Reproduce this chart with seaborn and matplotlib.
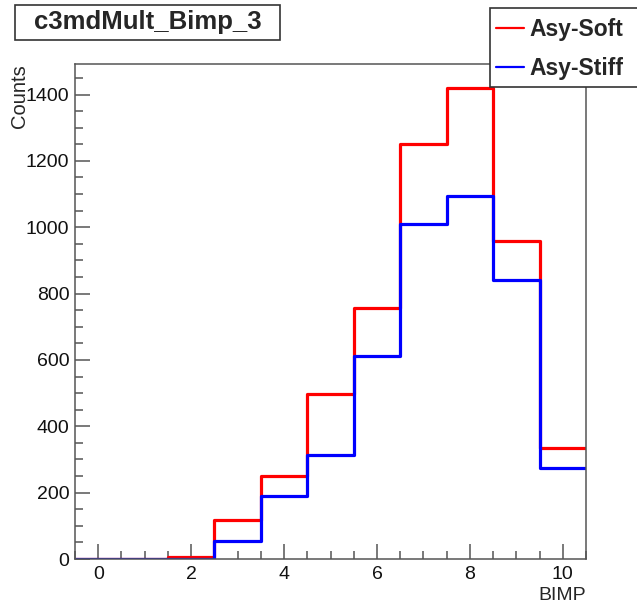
import numpy as np
import pandas as pd
import seaborn as sns
import matplotlib.pyplot as plt
from matplotlib.patches import Rectangle
from matplotlib.lines import Line2D
from matplotlib.ticker import MultipleLocator

# histogram contents, one bin per integer BIMP value
bimp = [0, 1, 2, 3, 4, 5, 6, 7, 8, 9, 10]
soft_counts = [0, 0, 6, 117, 249, 498, 756, 1251, 1421, 960, 335]
stiff_counts = [0, 0, 1, 55, 191, 314, 611, 1011, 1095, 840, 275]
series_names = ['Asy-Soft', 'Asy-Stiff']
series_colors = ['#ff0000', '#0000ff']

df = pd.concat([
    pd.DataFrame({'BIMP': bimp, 'Counts': soft_counts, 'model': series_names[0]}),
    pd.DataFrame({'BIMP': bimp, 'Counts': stiff_counts, 'model': series_names[1]}),
])
edges = list(np.arange(-0.5, 11.0, 1.0))

sns.set_style('ticks')
plt.rcParams['font.family'] = ['Liberation Sans', 'DejaVu Sans']

fig = plt.figure(figsize=(6.37, 6.06), dpi=100)
ax = fig.add_axes([75/637, 1-559/606, 511/637, (559-64)/606])

for name, col in zip(series_names, series_colors):
    sns.histplot(data=df[df.model == name], x='BIMP', weights='Counts', bins=edges,
                 element='step', fill=False, color=col, linewidth=2.3, ax=ax)

ax.set_xlim(-0.5, 10.5)
ax.set_ylim(0, 1.05*max(soft_counts))
ax.set_xlabel('')
ax.set_ylabel('')
ax.xaxis.set_major_locator(MultipleLocator(2))
ax.xaxis.set_minor_locator(MultipleLocator(0.5))
ax.yaxis.set_major_locator(MultipleLocator(200))
ax.yaxis.set_minor_locator(MultipleLocator(50))
ax.tick_params(which='both', direction='in', colors='#555555', labelcolor='#111111',
               labelsize=14, width=1.1, top=False, right=False)
ax.tick_params(which='major', length=10.5)
ax.tick_params(which='minor', length=5.5)
ax.tick_params(axis='x', pad=5)
ax.tick_params(axis='y', pad=4)
for s in ax.spines.values():
    s.set_color('#555555')
    s.set_linewidth(1.1)

fig.text(20/637, 1-64/606, 'Counts', rotation=90, ha='center', va='top', fontsize=14.5)
fig.text(586/637, 1-600/606, 'BIMP', ha='right', va='baseline', fontsize=14)

# title box
fig.patches.append(Rectangle((15/637, 1-40/606), 265/637, 35/606, transform=fig.transFigure,
                             facecolor='white', edgecolor='#333333', linewidth=1.2))
fig.text(148/637, 1-22/606, 'c3mdMult_Bimp_3', ha='center', va='center',
         fontsize=18.5, fontweight='bold')

# legend box
fig.patches.append(Rectangle((490/637, 1-87/606), 160/637, 79/606, transform=fig.transFigure,
                             facecolor='white', edgecolor='#333333', linewidth=1.2, zorder=5))
handles = [Line2D([], [], color=c, linewidth=1.6) for c in series_colors]
fig.legend(handles, series_names, loc='center left', bbox_to_anchor=(491/637, 1-49/606),
           frameon=False, prop={'size': 16.5, 'weight': 'bold'}, handlelength=1.22,
           handletextpad=0.26, labelspacing=0.72, borderpad=0.2, borderaxespad=0)

fig.savefig('out.png', dpi=100)
